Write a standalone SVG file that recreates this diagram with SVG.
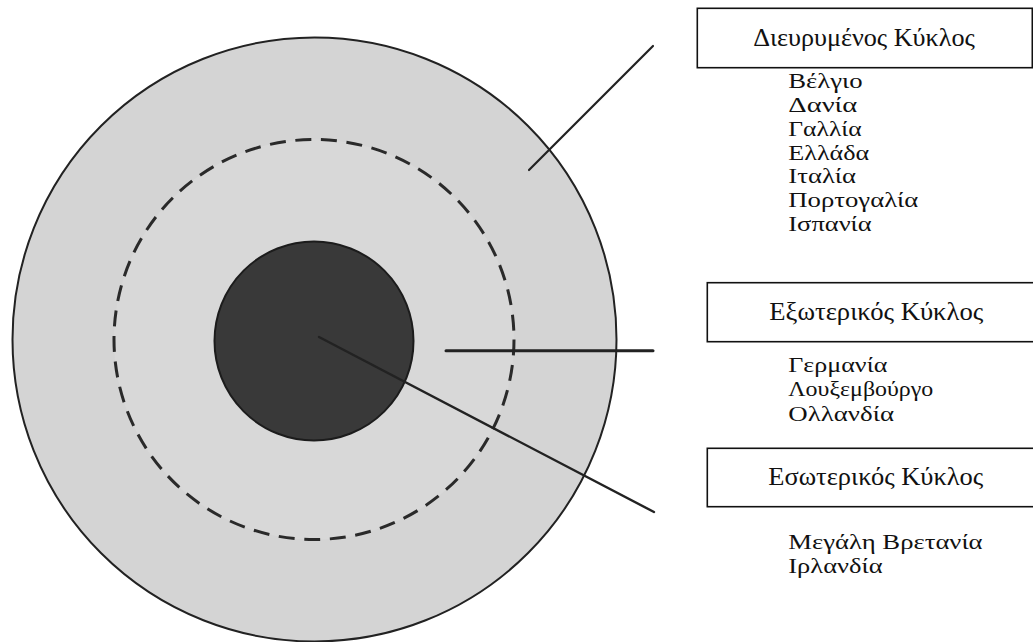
<svg xmlns="http://www.w3.org/2000/svg" width="1033" height="642" viewBox="0 0 1033 642">
<style>
.lbl{font-family:"Liberation Serif","Times New Roman",serif;fill:#111}
.hdr{font-size:26px;text-anchor:middle}
.item{font-size:21.3px}
.box{fill:#fff;stroke:#111;stroke-width:1.6}
.ln{stroke:#222;fill:none;stroke-linecap:round}
</style>
<rect width="1033" height="642" fill="#fff"/>
<g id="outer-circle">
<circle cx="314.5" cy="339.5" r="302" fill="#d4d4d4" stroke="#222" stroke-width="2"/>
</g>
<g id="dashed-circle">
<circle cx="314" cy="339.5" r="200" fill="#d8d8d8" stroke="#2a2a2a" stroke-width="3" stroke-dasharray="16 9.65"/>
</g>
<g id="inner-circle">
<circle cx="314" cy="341" r="99.5" fill="#393939" stroke="#1c1c1c" stroke-width="2"/>
</g>
<g id="connectors">
<line class="ln" x1="529" y1="170" x2="653" y2="46" stroke-width="2.2"/>
<line class="ln" x1="446" y1="350.7" x2="653" y2="350.7" stroke-width="3"/>
<line class="ln" x1="319" y1="337" x2="654" y2="512" stroke-width="2.4"/>
</g>
<g id="box-dievrymenos">
<rect class="box" x="697.3" y="8.3" width="335" height="59.4"/>
<text class="lbl hdr" x="864" y="45.7" textLength="221.7" lengthAdjust="spacingAndGlyphs">Διευρυμένος Κύκλος</text>
</g>
<g id="list-dievrymenos" class="lbl item">
<text x="788.3" y="88.3" textLength="74.3" lengthAdjust="spacingAndGlyphs">Βέλγιο</text>
<text x="788.3" y="112" textLength="69" lengthAdjust="spacingAndGlyphs">Δανία</text>
<text x="788.3" y="135.8" textLength="73.3" lengthAdjust="spacingAndGlyphs">Γαλλία</text>
<text x="788.3" y="159.5" textLength="81" lengthAdjust="spacingAndGlyphs">Ελλάδα</text>
<text x="788.3" y="183.2" textLength="67.7" lengthAdjust="spacingAndGlyphs">Ιταλία</text>
<text x="788.3" y="207" textLength="130" lengthAdjust="spacingAndGlyphs">Πορτογαλία</text>
<text x="788.3" y="230.7" textLength="83.3" lengthAdjust="spacingAndGlyphs">Ισπανία</text>
</g>
<g id="box-exoterikos">
<rect class="box" x="707.3" y="282.7" width="340" height="59"/>
<text class="lbl hdr" x="876.3" y="320" textLength="214" lengthAdjust="spacingAndGlyphs">Εξωτερικός Κύκλος</text>
</g>
<g id="list-exoterikos" class="lbl item">
<text x="788.3" y="371.7" textLength="99" lengthAdjust="spacingAndGlyphs">Γερμανία</text>
<text x="788.3" y="395.7" textLength="145" lengthAdjust="spacingAndGlyphs">Λουξεμβούργο</text>
<text x="788.3" y="420.7" textLength="105.7" lengthAdjust="spacingAndGlyphs">Ολλανδία</text>
</g>
<g id="box-esoterikos">
<rect class="box" x="707.3" y="448.3" width="340" height="58.4"/>
<text class="lbl hdr" x="875.8" y="485" textLength="215" lengthAdjust="spacingAndGlyphs">Εσωτερικός Κύκλος</text>
</g>
<g id="list-esoterikos" class="lbl item">
<text x="788.3" y="549.3" textLength="194.3" lengthAdjust="spacingAndGlyphs">Μεγάλη Βρετανία</text>
<text x="788.3" y="572.7" textLength="94.3" lengthAdjust="spacingAndGlyphs">Ιρλανδία</text>
</g>
</svg>
